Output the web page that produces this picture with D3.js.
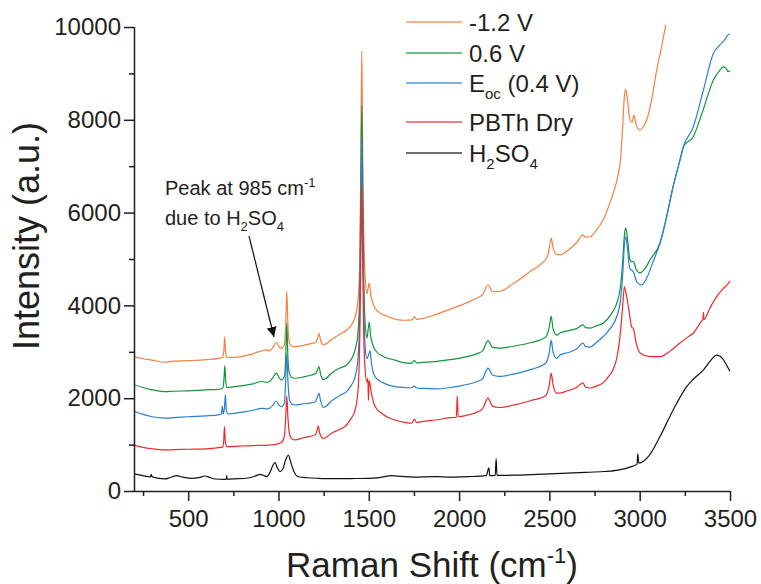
<!DOCTYPE html>
<html><head><meta charset="utf-8">
<script src="https://cdn.jsdelivr.net/npm/d3@7"></script>
<style>
body{margin:0;background:#fff}
svg{display:block}
text{font-family:"Liberation Sans",Arial,Helvetica,sans-serif;fill:#231f20}
</style>
</head><body><svg id="c" width="761" height="584"></svg>
<script>
// ---------- DATA ----------
const seriesNames = ["-1.2 V","0.6 V","Eoc (0.4 V)","PBTh Dry","H2SO4"];
const seriesColors = ["#f5813f","#13943b","#2a7fd1","#ec2a2c","#111111"];
const xTicksMajor = [500,1000,1500,2000,2500,3000,3500];
const xTicksMinor = [250,750,1250,1750,2250,2750,3250];
const yTicksMajor = [0,2000,4000,6000,8000,10000];
const yTicksMinor = [1000,3000,5000,7000,9000];

const negV12 = [[200,2890],[250,2850],[300,2820],[372,2775],[420,2800],[500,2810],[600,2830],[667,2860],[690,2880],[697,3000],[702,3320],[707,3000],[715,2880],[759,2880],[800,2900],[860,2960],[907,3020],[930,3040],[950,3020],[970,3100],[988,3200],[1005,3100],[1018,3075],[1032,3150],[1040,3600],[1046,4310],[1052,3600],[1060,3200],[1075,3120],[1091,3110],[1140,3140],[1184,3180],[1205,3200],[1215,3280],[1224,3390],[1233,3250],[1248,3150],[1300,3280],[1340,3380],[1377,3470],[1400,3560],[1424,3750],[1440,4100],[1450,5000],[1456,7200],[1461,9480],[1466,7500],[1472,5600],[1480,4600],[1490,4250],[1497,4400],[1502,4480],[1510,4250],[1525,4020],[1550,3870],[1600,3770],[1650,3700],[1700,3680],[1740,3690],[1752,3760],[1765,3700],[1800,3720],[1867,3800],[1950,3920],[2000,3990],[2050,4070],[2100,4160],[2130,4230],[2160,4440],[2185,4300],[2220,4300],[2300,4470],[2350,4600],[2400,4750],[2450,4880],[2490,5060],[2500,5250],[2510,5450],[2520,5250],[2540,5100],[2560,5090],[2600,5180],[2650,5350],[2686,5520],[2700,5470],[2725,5480],[2760,5620],[2797,5840],[2830,6150],[2860,6500],[2880,6800],[2895,7200],[2905,7800],[2915,8500],[2922,8660],[2932,8450],[2946,8000],[2958,7950],[2968,8100],[2980,7900],[3002,7780],[3020,7850],[3039,8000],[3066,8430],[3094,9070],[3120,9550],[3145,10050],[3160,10300]];

const pos06 = [[200,2290],[250,2230],[300,2180],[372,2140],[420,2150],[500,2160],[600,2180],[667,2190],[692,2220],[698,2400],[703,2700],[708,2350],[715,2230],[759,2250],[800,2270],[860,2310],[907,2360],[940,2340],[965,2420],[988,2540],[1005,2430],[1018,2390],[1033,2480],[1040,2900],[1046,3620],[1052,2900],[1060,2550],[1075,2440],[1091,2430],[1140,2460],[1184,2500],[1205,2530],[1215,2600],[1224,2680],[1233,2520],[1248,2400],[1300,2560],[1340,2650],[1377,2715],[1400,2820],[1424,3040],[1440,3400],[1450,4300],[1456,6500],[1461,8300],[1466,6500],[1472,4600],[1480,3600],[1490,3300],[1497,3500],[1503,3640],[1510,3350],[1535,3040],[1580,2900],[1645,2820],[1700,2760],[1737,2750],[1752,2810],[1765,2760],[1800,2770],[1867,2790],[1950,2830],[2000,2860],[2050,2900],[2100,2960],[2130,3020],[2160,3240],[2185,3100],[2220,3080],[2300,3120],[2400,3200],[2480,3320],[2500,3550],[2510,3770],[2520,3500],[2540,3360],[2559,3405],[2600,3450],[2650,3500],[2686,3580],[2700,3520],[2725,3510],[2760,3560],[2799,3620],[2840,3800],[2873,4050],[2895,4450],[2905,4900],[2915,5500],[2922,5670],[2932,5450],[2945,5000],[2955,4940],[2965,4950],[2980,4780],[3002,4700],[3030,4800],[3060,5000],[3112,5340],[3149,5910],[3185,6560],[3223,7130],[3242,7420],[3297,7640],[3350,8200],[3408,8860],[3440,9050],[3463,9140],[3480,9100],[3489,9040],[3500,9050]];

const eocV04 = [[200,1720],[250,1650],[300,1600],[372,1570],[420,1580],[500,1600],[600,1620],[667,1640],[684,1660],[689,1830],[694,1660],[701,1800],[706,2080],[711,1750],[720,1660],[759,1675],[800,1700],[860,1740],[907,1780],[940,1770],[965,1830],[988,1940],[1005,1840],[1018,1817],[1033,1900],[1040,2400],[1046,2950],[1052,2400],[1060,1980],[1075,1870],[1091,1853],[1140,1880],[1184,1900],[1205,1930],[1215,2020],[1224,2105],[1233,1950],[1248,1800],[1300,1960],[1340,2060],[1377,2140],[1400,2260],[1424,2460],[1440,2850],[1450,3800],[1456,5800],[1461,7600],[1466,5800],[1472,4000],[1480,3100],[1490,2850],[1500,2950],[1507,3020],[1515,2750],[1535,2460],[1580,2330],[1645,2250],[1700,2230],[1737,2225],[1752,2260],[1765,2220],[1800,2210],[1867,2200],[1950,2230],[2000,2260],[2050,2300],[2100,2360],[2130,2420],[2160,2650],[2185,2500],[2220,2470],[2300,2520],[2400,2620],[2480,2760],[2500,3000],[2510,3250],[2520,3000],[2540,2860],[2559,2930],[2600,2980],[2650,3060],[2686,3190],[2700,3110],[2725,3100],[2760,3200],[2797,3325],[2840,3520],[2873,3760],[2895,4150],[2905,4600],[2915,5300],[2922,5480],[2932,5250],[2945,4800],[2955,4760],[2965,4720],[2985,4500],[3011,4440],[3040,4600],[3070,4900],[3112,5340],[3149,5910],[3185,6560],[3223,7130],[3242,7420],[3297,7850],[3350,8600],[3408,9430],[3440,9600],[3470,9720],[3489,9830],[3500,9850]];

const pbthDry = [[200,990],[250,940],[300,910],[372,885],[420,890],[500,900],[600,910],[660,930],[692,950],[697,1100],[701,1390],[706,1050],[715,955],[759,960],[800,970],[860,980],[944,990],[980,1000],[1000,1020],[1020,1060],[1033,1200],[1040,1600],[1046,2050],[1052,1600],[1060,1250],[1075,1120],[1091,1100],[1140,1150],[1184,1185],[1205,1220],[1215,1330],[1220,1400],[1228,1250],[1248,1135],[1300,1260],[1340,1330],[1368,1390],[1400,1550],[1424,1745],[1440,2150],[1450,3300],[1456,5200],[1461,6600],[1466,5000],[1472,3400],[1480,2600],[1490,2350],[1495,2430],[1498,1950],[1502,2380],[1515,2100],[1535,1820],[1580,1650],[1645,1530],[1700,1480],[1737,1460],[1752,1545],[1765,1480],[1800,1500],[1867,1530],[1950,1580],[1985,1590],[1990,2050],[1995,1600],[2050,1640],[2100,1700],[2130,1770],[2160,2000],[2185,1830],[2220,1800],[2300,1850],[2400,1950],[2480,2060],[2500,2300],[2510,2540],[2520,2300],[2540,2110],[2559,2110],[2600,2160],[2650,2230],[2686,2330],[2700,2240],[2725,2220],[2760,2260],[2797,2330],[2830,2480],[2852,2610],[2875,2900],[2890,3300],[2905,3950],[2915,4400],[2925,4250],[2940,3900],[2955,3540],[2965,3500],[2980,3200],[3002,2975],[3050,2900],[3112,2895],[3170,3020],[3223,3190],[3260,3300],[3297,3405],[3340,3650],[3350,3700],[3353,3850],[3356,3700],[3390,3950],[3426,4190],[3460,4350],[3497,4510],[3500,4530]];

const h2so4 = [[200,370],[250,330],[290,305],[296,360],[300,305],[372,260],[400,290],[436,330],[470,300],[519,273],[560,290],[593,323],[620,290],[649,259],[700,252],[711,255],[713,330],[716,255],[760,262],[831,280],[870,320],[898,360],[915,340],[935,309],[955,420],[970,560],[981,610],[992,520],[1008,416],[1025,480],[1040,680],[1055,770],[1068,620],[1082,452],[1095,350],[1110,308],[1160,285],[1220,273],[1300,265],[1400,268],[1497,273],[1560,290],[1627,330],[1680,315],[1750,300],[1867,308],[1950,300],[2050,310],[2150,330],[2165,500],[2170,330],[2200,335],[2205,700],[2210,335],[2300,340],[2400,355],[2500,370],[2600,385],[2700,400],[2800,420],[2880,450],[2950,520],[2985,580],[2990,800],[2995,600],[3050,750],[3112,1170],[3160,1550],[3205,1890],[3260,2250],[3300,2420],[3353,2610],[3390,2800],[3426,2930],[3460,2850],[3480,2720],[3497,2600],[3500,2580]];

const seriesData = [negV12, pos06, eocV04, pbthDry, h2so4];

// ---------- CHART ----------
const svg = d3.select("#c");
const L=134, R=730, T=27, B=491;
const x = d3.scaleLinear().domain([200,3500]).range([L,R]);
const y = d3.scaleLinear().domain([0,10000]).range([B,T]);
const axisColor = "#231f20";

svg.append("defs").append("clipPath").attr("id","plot")
  .append("rect").attr("x",L).attr("y",T-2).attr("width",R-L+2).attr("height",B-T+2);

const line = d3.line().x(d=>x(d[0])).y(d=>y(d[1])).curve(d3.curveMonotoneX);
const g = svg.append("g").attr("clip-path","url(#plot)");
seriesData.forEach((s,i)=>{
  g.append("path").attr("d",line(s)).attr("fill","none")
   .attr("stroke",seriesColors[i]).attr("stroke-width",1.2).attr("stroke-linejoin","round");
});

// axes
const xAx = svg.append("g").attr("transform",`translate(0,${B})`)
  .call(d3.axisBottom(x).tickValues(xTicksMajor).tickSize(10).tickSizeOuter(0).tickPadding(9).tickFormat(d3.format("d")));
const xAxMin = svg.append("g").attr("transform",`translate(0,${B})`)
  .call(d3.axisBottom(x).tickValues(xTicksMinor).tickSize(5).tickFormat(""));
xAxMin.select(".domain").remove();
const yAx = svg.append("g").attr("transform",`translate(${L},0)`)
  .call(d3.axisLeft(y).tickValues(yTicksMajor).tickSize(10).tickSizeOuter(0).tickPadding(3).tickFormat(d3.format("d")));
const yAxMin = svg.append("g").attr("transform",`translate(${L},0)`)
  .call(d3.axisLeft(y).tickValues(yTicksMinor).tickSize(5).tickFormat(""));
yAxMin.select(".domain").remove();
[xAx,xAxMin,yAx,yAxMin].forEach(a=>{
  a.selectAll("path,line").attr("stroke",axisColor).attr("stroke-width",1.5);
  a.selectAll("text").attr("font-size",24).attr("font-family",null).style("fill",axisColor);
});
xAx.select(".domain").attr("d",`M${L},0.5H${R}`);
yAx.select(".domain").attr("d",`M0.5,${T}V${B}`);

// axis titles
const xt = svg.append("text").attr("x",(L+R)/2).attr("y",577).attr("text-anchor","middle").attr("font-size",35);
xt.append("tspan").text("Raman Shift (cm");
xt.append("tspan").attr("font-size",22).attr("dy",-14).text("-1");
xt.append("tspan").attr("dy",14).text(")");

svg.append("text").attr("transform","translate(39,236) rotate(-90)")
  .attr("text-anchor","middle").attr("font-size",36).text("Intensity (a.u.)");

// legend
const legY = [22,53,83,122,153];
const leg = svg.append("g");
seriesNames.forEach((n,i)=>{
  leg.append("line").attr("x1",406).attr("x2",462).attr("y1",legY[i]).attr("y2",legY[i])
    .attr("stroke",seriesColors[i]).attr("stroke-width",1.5).attr("opacity",0.8);
  const t = leg.append("text").attr("x",469).attr("y",legY[i]).attr("dy","0.36em").attr("font-size",24);
  if(n.startsWith("Eoc")){
    t.append("tspan").text("E");
    t.append("tspan").attr("font-size",15).attr("dy",7).text("oc");
    t.append("tspan").attr("dy",-7).text(" (0.4 V)");
  } else if(n==="H2SO4"){
    t.append("tspan").text("H");
    t.append("tspan").attr("font-size",15).attr("dy",7).text("2");
    t.append("tspan").attr("dy",-7).text("SO");
    t.append("tspan").attr("font-size",15).attr("dy",7).text("4");
  } else t.text(n);
});

// annotation
const a1 = svg.append("text").attr("x",165).attr("y",195).attr("font-size",20);
a1.append("tspan").text("Peak at 985 cm");
a1.append("tspan").attr("font-size",13).attr("dy",-8).text("-1");
const a2 = svg.append("text").attr("x",165).attr("y",225).attr("font-size",20);
a2.append("tspan").text("due to H");
a2.append("tspan").attr("font-size",13).attr("dy",6).text("2");
a2.append("tspan").attr("dy",-6).text("SO");
a2.append("tspan").attr("font-size",13).attr("dy",6).text("4");

svg.append("defs").append("marker").attr("id","arr").attr("viewBox","0 0 10 10")
  .attr("refX",10).attr("refY",5).attr("markerWidth",10).attr("markerHeight",10)
  .attr("markerUnits","userSpaceOnUse").attr("orient","auto")
  .append("path").attr("d","M0,0L10,5L0,10Z").attr("fill","#111");
svg.append("line").attr("x1",249).attr("y1",236).attr("x2",274).attr("y2",337)
  .attr("stroke","#111").attr("stroke-width",1.2).attr("marker-end","url(#arr)");
</script>
</body></html>
